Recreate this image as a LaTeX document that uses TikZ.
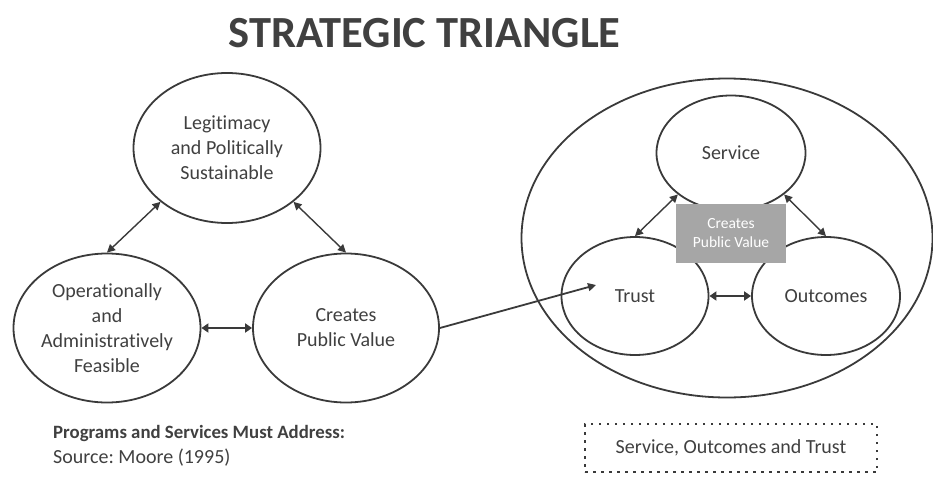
\documentclass[tikz,border=0pt]{standalone}
\usepackage{fontspec}
\setmainfont{Carlito}[Ligatures=NoCommon]
\usetikzlibrary{shapes.geometric,arrows.meta}
\definecolor{ink}{HTML}{3A3A3A}
\definecolor{txt}{HTML}{404040}
\definecolor{boxgray}{HTML}{A6A6A6}
\tikzset{
  ell/.style={ellipse, draw=ink, line width=1.8pt, inner sep=0pt, align=center,
    text=txt, font=\fontsize{20}{25}\selectfont},
  tip/.style={-{Triangle[length=8pt,width=8pt]}},
  dtip/.style={{Triangle[length=8pt,width=8pt]}-{Triangle[length=8pt,width=8pt]}},
  link/.style={draw=ink, line width=1.4pt, dtip},
  hlink/.style={draw=ink, line width=2.4pt, {Triangle[length=7pt,width=9pt]}-{Triangle[length=7pt,width=9pt]}},
}
\begin{document}
\frenchspacing
\begin{tikzpicture}[x=1pt,y=-1pt]
\useasboundingbox (0,0) rectangle (933,476);
% title
\node[font=\fontsize{44.5}{50}\selectfont\bfseries, text=txt] (title) at (424.5,33) {STRATEGIC TRIANGLE};
% left triangle
\node[ell, minimum width=187, minimum height=150] (leg) at (227,148) {Legitimacy\\and Politically\\Sustainable};
\node[ell, minimum width=187, minimum height=149] (oper) at (107,328) {Operationally\\and\\Administratively\\Feasible};
\node[ell, minimum width=186, minimum height=149] (cpv) at (346,328) {Creates\\Public Value};
\draw[link] (leg.219) -- (oper.north);
\draw[link] (leg.321) -- (cpv.north);
\draw[hlink] (oper.east) -- (cpv.west);
% right
\node[ellipse, draw=ink, line width=1.8pt, minimum width=411, minimum height=319] (outer) at (727,238) {};
\node[ell, minimum width=149, minimum height=115] (serv) at (731,153) {Service};
\node[ell, minimum width=147, minimum height=118] (trust) at (635,296) {Trust};
\node[ell, minimum width=148, minimum height=118] (outc) at (826,296) {Outcomes};
\node[fill=boxgray, minimum width=110, minimum height=59, inner sep=0pt, align=center,
  text=white, font=\fontsize{15.5}{19}\selectfont] (cpvbox) at (731,233.5) {Creates\\Public Value};
\draw[link] (serv.218) -- (trust.north);
\draw[link] (serv.322) -- (outc.north);
\draw[hlink] (trust.east) -- (outc.west);
\coordinate (ptr) at (596,285);
\draw[draw=ink, line width=1.8pt, tip] (cpv.east) -- (ptr);
% bottom texts
\node[anchor=base west, inner sep=0pt, text=txt, font=\fontsize{18.8}{24}\selectfont\bfseries] (must) at (53,438) {Programs and Services Must Address:};
\node[anchor=base west, inner sep=0pt, text=txt, font=\fontsize{20}{24}\selectfont] (src) at (53,463) {Source: Moore (1995)};
\node[draw=ink, line width=1.8pt, dash pattern=on 2.5pt off 5.5pt, minimum width=292, minimum height=48,
  inner sep=0pt, text=txt, font=\fontsize{20}{24}\selectfont] (sot) at (731,448) {Service, Outcomes and Trust};
\end{tikzpicture}
\end{document}
